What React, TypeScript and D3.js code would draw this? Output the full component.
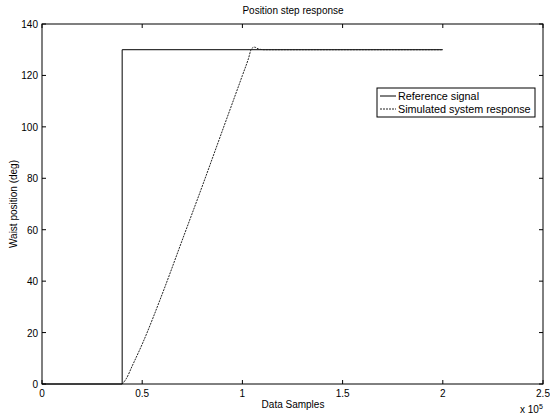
import React, { useEffect, useRef } from "react"
import * as d3 from "d3"

// reference step: 0 until 0.4e5, then 130 until 2e5
const refX = [0, 40000, 40000, 200000]
const refY = [0, 0, 130, 130]

// simulated response
const simX = [40000, 42000, 45000, 50000, 60000, 70000, 80000, 90000, 100000, 103000, 104500, 106000, 108000, 111000, 150000, 200000]
const simY = [0, 2, 7, 15.5, 35, 56, 77, 98.5, 120, 126.5, 130.3, 131, 130.3, 130, 130, 130]

const xTicks = [0, 0.5, 1, 1.5, 2, 2.5]
const yTicks = [0, 20, 40, 60, 80, 100, 120, 140]
const legendLabels = ["Reference signal", "Simulated system response"]

export default function App() {
    const svgRef = useRef<SVGSVGElement>(null)

    useEffect(() => {
        if (!svgRef.current) return
        const svg = d3.select(svgRef.current)
        svg.selectAll("*").remove()

        const left = 42, right = 543, top = 24, bottom = 384
        const font = "Liberation Sans, Arial, sans-serif"

        const x = d3.scaleLinear().domain([0, 250000]).range([left, right])
        const y = d3.scaleLinear().domain([0, 140]).range([bottom, top])

        svg.append("rect").attr("width", 550).attr("height", 416).attr("fill", "#fff")

        // ticks, inward on all four sides
        const tl = 4
        xTicks.forEach(t => {
            const px = x(t * 1e5)
            svg.append("line").attr("x1", px).attr("x2", px).attr("y1", bottom).attr("y2", bottom - tl).attr("stroke", "#000")
            svg.append("line").attr("x1", px).attr("x2", px).attr("y1", top).attr("y2", top + tl).attr("stroke", "#000")
            svg.append("text").attr("x", px).attr("y", 397).attr("text-anchor", "middle")
                .style("font-family", font).style("font-size", "10px").text(String(t))
        })
        yTicks.forEach(t => {
            const py = y(t)
            svg.append("line").attr("x1", left).attr("x2", left + tl).attr("y1", py).attr("y2", py).attr("stroke", "#000")
            svg.append("line").attr("x1", right).attr("x2", right - tl).attr("y1", py).attr("y2", py).attr("stroke", "#000")
            svg.append("text").attr("x", left - 4).attr("y", py + 4).attr("text-anchor", "end")
                .style("font-family", font).style("font-size", "10px").text(String(t))
        })

        const refLine = d3.line<[number, number]>().x(d => x(d[0])).y(d => y(d[1]))
        svg.append("path")
            .attr("d", refLine(refX.map((v, i) => [v, refY[i]] as [number, number])))
            .attr("fill", "none").attr("stroke", "#000").attr("stroke-width", 1)

        const simLine = d3.line<[number, number]>().x(d => x(d[0])).y(d => y(d[1])).curve(d3.curveMonotoneX)
        svg.append("path")
            .attr("d", simLine(simX.map((v, i) => [v, simY[i]] as [number, number])))
            .attr("fill", "none").attr("stroke", "#222").attr("stroke-width", 1)
            .attr("stroke-dasharray", "2,1")

        // axes box
        svg.append("rect").attr("x", left).attr("y", top).attr("width", right - left).attr("height", bottom - top)
            .attr("fill", "none").attr("stroke", "#000").attr("stroke-width", 1)

        // legend
        const lg = svg.append("g")
        lg.append("rect").attr("x", 377).attr("y", 88).attr("width", 158).attr("height", 29)
            .attr("fill", "#fff").attr("stroke", "#000")
        legendLabels.forEach((lab, i) => {
            const ly = 96 + i * 13
            lg.append("line").attr("x1", 380).attr("x2", 396).attr("y1", ly).attr("y2", ly)
                .attr("stroke", i === 0 ? "#000" : "#222").attr("stroke-dasharray", i === 0 ? null : "2,1")
            lg.append("text").attr("x", 398).attr("y", ly + 4)
                .style("font-family", font).style("font-size", "10.8px").text(lab)
        })

        svg.append("text").attr("x", 293).attr("y", 14).attr("text-anchor", "middle")
            .style("font-family", font).style("font-size", "10px").text("Position step response")
        svg.append("text").attr("x", 293).attr("y", 408).attr("text-anchor", "middle")
            .style("font-family", font).style("font-size", "10px").text("Data Samples")
        const ex = svg.append("text").attr("x", 520).attr("y", 413)
            .style("font-family", font).style("font-size", "10px")
        ex.append("tspan").text("x 10")
        ex.append("tspan").attr("dy", -4).style("font-size", "7px").text("5")
        svg.append("text").attr("transform", `translate(17,${(top + bottom) / 2}) rotate(-90)`)
            .attr("text-anchor", "middle")
            .style("font-family", font).style("font-size", "10px").text("Waist position (deg)")
    }, [])

    return (
        <div style={{ position: "absolute", left: 0, top: 0, width: 550, height: 416 }}>
            <svg ref={svgRef} width={550} height={416} viewBox="0 0 550 416" />
        </div>
    )
}
